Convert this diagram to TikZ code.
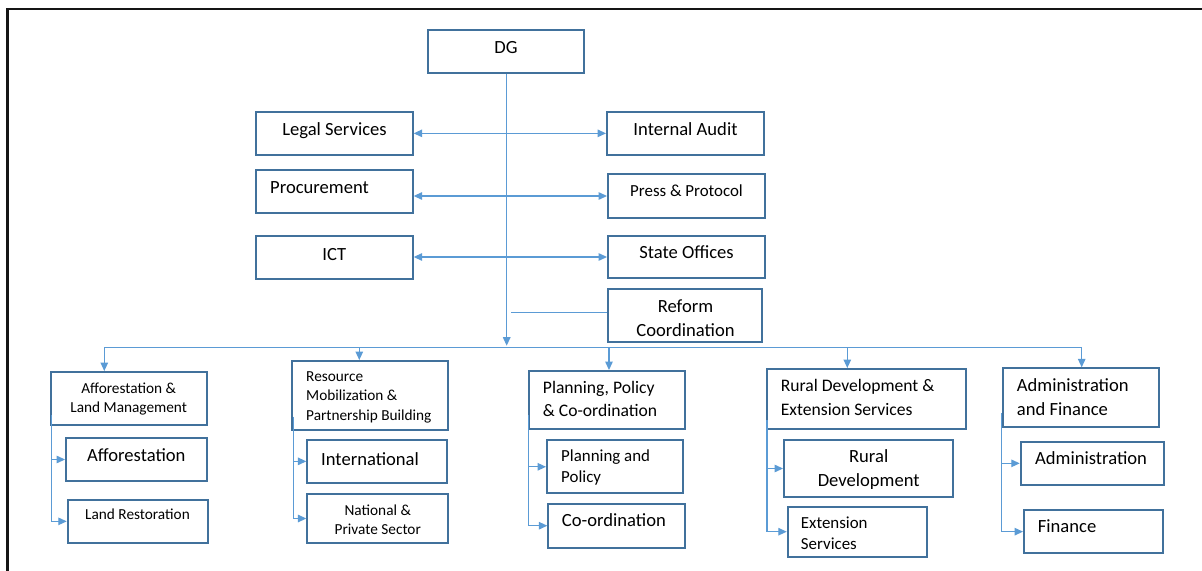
\documentclass[tikz,border=0pt]{standalone}
\usepackage{fontspec}
\setmainfont{Carlito}
\usetikzlibrary{arrows.meta,fit}

\definecolor{boxline}{HTML}{41719C}
\definecolor{wirec}{HTML}{5B9BD5}
\definecolor{frameline}{HTML}{151515}

\tikzset{
  orgbox/.style={draw=boxline, line width=1.9bp, inner sep=0pt},
  wire/.style={draw=wirec, line width=1.3bp},
  tip/.style={-{Triangle[length=8.5bp,width=7.5bp]}},
  dbl/.style={{Triangle[length=8.5bp,width=7.5bp]}-{Triangle[length=8.5bp,width=7.5bp]}},
  lbl/.style={inner sep=0pt, text=black},
  fbig/.style={font=\fontsize{18.6bp}{22bp}\selectfont},
  fsmall/.style={font=\fontsize{15.3bp}{18bp}\selectfont},
  fmid/.style={font=\fontsize{16.9bp}{20bp}\selectfont},
  fmidb/.style={font=\fontsize{17.6bp}{21bp}\selectfont},
}
% box from its two corners
\newcommand\orgrect[5]{\node[orgbox, fit={(#2,#3) (#4,#5)}] (#1) {};}

\begin{document}
\begin{tikzpicture}[x=1bp,y=-1bp]
\useasboundingbox (0,0) rectangle (1202,571);

% frame
\draw[frameline, line width=2.6bp] (7.2,571) -- (7.2,9) -- (1202,9);

% top level
\orgrect{dg}{428}{30}{584}{73.3}
\node[lbl,fbig,anchor=base] (dg-t) at (506,53.5) {DG};

% staff units
\orgrect{legal}{256}{111.7}{412.7}{155}
\node[lbl,fbig,anchor=base] (legal-t) at (334.5,135.5) {Legal Services};
\orgrect{audit}{607}{111.7}{764}{155}
\node[lbl,fbig,anchor=base] (audit-t) at (685.5,135.5) {Internal Audit};
\orgrect{proc}{256}{170}{412.7}{213}
\node[lbl,fbig,anchor=base west] (proc-t) at (270,193.5) {Procurement};
\orgrect{press}{608}{174.3}{765}{217.7}
\node[lbl,fmid,anchor=base] (press-t) at (686.5,197) {Press \& Protocol};
\orgrect{ict}{256}{236}{412.7}{279}
\node[lbl,fbig,anchor=base] (ict-t) at (334.3,260.5) {ICT};
\orgrect{state}{608}{235.7}{765}{278.3}
\node[lbl,fbig,anchor=base] (state-t) at (686.5,258.5) {State Offices};
\orgrect{reform}{608}{289}{762}{341.7}
\node[lbl,fbig,anchor=base] (reform-t1) at (685.5,313) {Reform};
\node[lbl,fbig,anchor=base] (reform-t2) at (685.5,337) {Coordination};

% departments
\orgrect{aflm}{50.7}{372}{206.7}{425}
\node[lbl,fsmall,anchor=base] (aflm-t1) at (128.7,393.3) {Afforestation \&};
\node[lbl,fsmall,anchor=base] (aflm-t2) at (128.7,412.3) {Land Management};
\orgrect{affo}{66}{438}{206.7}{481}
\node[lbl,fbig,anchor=base] (affo-t) at (136.3,461) {Afforestation};
\orgrect{lrest}{67.7}{500}{208.3}{542.7}
\node[lbl,fsmall,anchor=base] (lrest-t) at (137.5,519.3) {Land Restoration};

\orgrect{rmpb}{292.3}{361}{448.3}{430}
\node[lbl,fsmall,anchor=base west] (rmpb-t1) at (306,381.7) {Resource};
\node[lbl,fsmall,anchor=base west] (rmpb-t2) at (306,400.7) {Mobilization \&};
\node[lbl,fsmall,anchor=base west] (rmpb-t3) at (306,420) {Partnership Building};
\orgrect{intl}{307.3}{440}{446.7}{482.7}
\node[lbl,fbig,anchor=base west] (intl-t) at (321,465) {International};
\orgrect{natl}{307.3}{494.3}{448.3}{542.7}
\node[lbl,fsmall,anchor=base] (natl-t1) at (377.8,515) {National \&};
\node[lbl,fsmall,anchor=base] (natl-t2) at (377.8,534) {Private Sector};

\orgrect{ppc}{529}{371}{685}{428.7}
\node[lbl,fmidb,anchor=base west] (ppc-t1) at (542.7,393.3) {Planning, Policy};
\node[lbl,fmidb,anchor=base west] (ppc-t2) at (542.7,416.7) {\& Co-ordination};
\orgrect{pnp}{547}{440.3}{683.3}{493.3}
\node[lbl,fmid,anchor=base west] (pnp-t1) at (561,461.7) {Planning and};
\node[lbl,fmid,anchor=base west] (pnp-t2) at (561,482.7) {Policy};
\orgrect{coord}{548.3}{503.7}{685}{547.7}
\node[lbl,fbig,anchor=base west] (coord-t) at (561.7,526.7) {Co-ordination};

\orgrect{rdes}{767}{369}{965.7}{428.7}
\node[lbl,fmidb,anchor=base west] (rdes-t1) at (780.7,391.7) {Rural Development \&};
\node[lbl,fmidb,anchor=base west] (rdes-t2) at (780.7,415) {Extension Services};
\orgrect{rdev}{784}{440.3}{953.3}{496.7}
\node[lbl,fbig,anchor=base] (rdev-t1) at (868.7,462.7) {Rural};
\node[lbl,fbig,anchor=base] (rdev-t2) at (868.7,486.7) {Development};
\orgrect{ext}{787.7}{506.7}{926.7}{556.7}
\node[lbl,fmid,anchor=base west] (ext-t1) at (800.7,528.3) {Extension};
\node[lbl,fmid,anchor=base west] (ext-t2) at (800.7,549) {Services};

\orgrect{af}{1003.3}{368.3}{1159.3}{426.7}
\node[lbl,fbig,anchor=base west] (af-t1) at (1016.7,391.7) {Administration};
\node[lbl,fbig,anchor=base west] (af-t2) at (1016.7,415) {and Finance};
\orgrect{adm}{1020.7}{441.7}{1164.3}{485}
\node[lbl,fbig,anchor=base west] (adm-t) at (1035,464) {Administration};
\orgrect{fin}{1024}{510}{1163.3}{553.3}
\node[lbl,fbig,anchor=base west] (fin-t) at (1037.7,532.3) {Finance};

% bus points
\coordinate (busA) at (104.3,347.7);
\coordinate (busB) at (359.3,347.7);
\coordinate (busC) at (609,347.7);
\coordinate (busD) at (847.3,347.7);
\coordinate (busE) at (1081.7,347.7);
\coordinate (dgbus) at (506.7,347.7);
\coordinate (rfend) at (511,312.3);

% staff connectors
\draw[wire,dbl] (legal.east) -- (audit.west);
\draw[wire,dbl] (proc.east |- press.west) -- (press.west);
\draw[wire,dbl] (ict.east |- state.west) -- (state.west);
\draw[wire] (reform.west |- rfend) -- (rfend);

% DG down to the bus
\draw[wire,tip,shorten >=2bp] (dg.south -| dgbus) -- (dgbus);
\draw[wire] (busA) -- (busE);

% bus down to departments
\draw[wire,tip] (busA) -- (busA |- aflm.north);
\draw[wire,tip] (busB) -- (busB |- rmpb.north);
\draw[wire,tip] (busC) -- (busC |- ppc.north);
\draw[wire,tip] (busD) -- (busD |- rdes.north);
\draw[wire,tip] (busE) -- (busE |- af.north);

% branches to sub-units
\coordinate (br1) at (51.7,415);
\draw[wire,tip] (br1) |- (lrest.west);
\draw[wire,tip] (br1 |- affo.west) -- (affo.west);

\coordinate (br2) at (293.3,416.7);
\draw[wire,tip] (br2) |- (natl.west);
\draw[wire,tip] (br2 |- intl.west) -- (intl.west);

\coordinate (br3) at (528.3,415);
\draw[wire,tip] (br3) |- (coord.west);
\draw[wire,tip] (br3 |- pnp.west) -- (pnp.west);

\coordinate (br4) at (767,420);
\draw[wire,tip] (br4) |- (ext.west);
\draw[wire,tip] (br4 |- rdev.west) -- (rdev.west);

\coordinate (br5) at (1001.7,413.3);
\draw[wire,tip] (br5) |- (fin.west);
\draw[wire,tip] (br5 |- adm.west) -- (adm.west);
\end{tikzpicture}
\end{document}
